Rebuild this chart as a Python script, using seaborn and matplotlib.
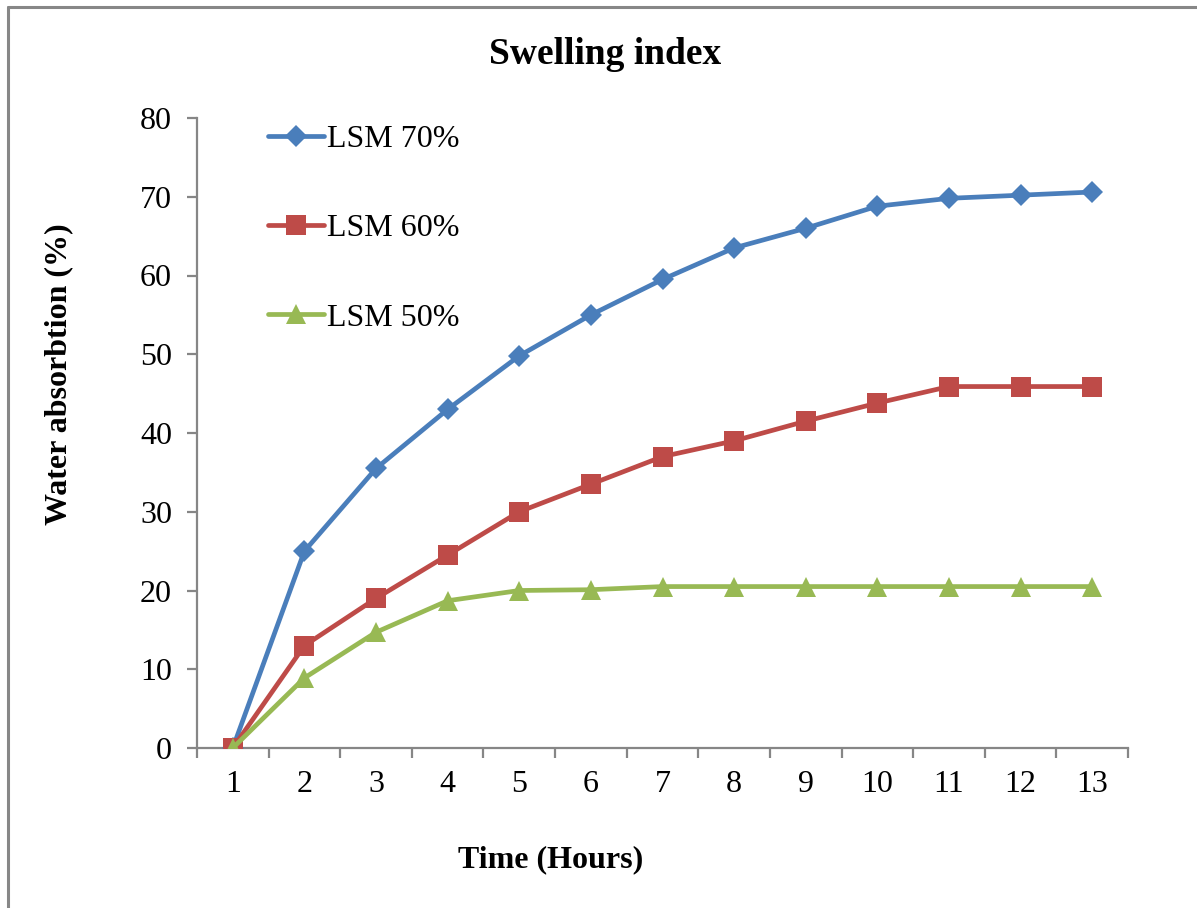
import matplotlib
matplotlib.use("Agg")
import matplotlib.pyplot as plt
import seaborn as sns
import pandas as pd
from matplotlib.lines import Line2D

hours = [1, 2, 3, 4, 5, 6, 7, 8, 9, 10, 11, 12, 13]
lsm70 = [0, 25, 35.5, 43, 49.8, 55, 59.5, 63.5, 66, 68.8, 69.8, 70.2, 70.6]
lsm60 = [0, 13, 19, 24.5, 30, 33.5, 37, 39, 41.5, 43.8, 45.9, 45.9, 45.9]
lsm50 = [0, 8.9, 14.7, 18.7, 20, 20.1, 20.5, 20.5, 20.5, 20.5, 20.5, 20.5, 20.5]
series_names = ["LSM 70%", "LSM 60%", "LSM 50%"]
y_ticks = [0, 10, 20, 30, 40, 50, 60, 70, 80]

sns.set_theme(style="white")
plt.rcParams["font.family"] = ["Liberation Serif", "DejaVu Serif"]
plt.rcParams["text.color"] = "black"
plt.rcParams["axes.labelcolor"] = "black"
plt.rcParams["xtick.color"] = "black"
plt.rcParams["ytick.color"] = "black"

W, H = 1197, 908
fig = plt.figure(figsize=(W / 100, H / 100), dpi=100)
ax = fig.add_axes([197 / W, 1 - 748 / H, (1128 - 197) / W, (748 - 118) / H])

colors = ["#4A7EBB", "#BE4B48", "#98B954"]
markers = ["D", "s", "^"]
msizes = [11, 14, 15]
lw = 3.4

df = pd.DataFrame({"Hour": hours * 3,
                   "Value": lsm70 + lsm60 + lsm50,
                   "Series": [series_names[0]] * 13 + [series_names[1]] * 13 + [series_names[2]] * 13})

for name, c, m, ms in zip(series_names, colors, markers, msizes):
    sub = df[df["Series"] == name]
    sns.lineplot(data=sub, x="Hour", y="Value", ax=ax, color=c, marker=m,
                 markersize=ms, markeredgecolor=c, markeredgewidth=0, linewidth=lw,
                 label=name, legend=False, zorder=3)

ax.set_xlim(0.5, 13.5)
ax.set_ylim(0, 80)
ax.set_yticks(y_ticks)
ax.set_xticks(hours)
ax.set_xticks([h - 0.5 for h in hours] + [13.5], minor=True)
ax.set_xticklabels([str(h) for h in hours])

spine_c = "#868686"
for s in ["top", "right"]:
    ax.spines[s].set_visible(False)
for s in ["left", "bottom"]:
    ax.spines[s].set_color(spine_c)
    ax.spines[s].set_linewidth(1.6)
ax.tick_params(axis="y", which="major", length=7, width=1.6, color=spine_c,
               direction="out", left=True, pad=11, labelsize=23, labelcolor="black")
ax.tick_params(axis="x", which="major", length=0, pad=16, labelsize=23, labelcolor="black")
ax.tick_params(axis="x", which="minor", length=7, width=1.6, color=spine_c,
               direction="out", bottom=True)
ax.grid(False)

ax.set_xlabel("Time (Hours)", fontsize=23, fontweight="bold", color="black")
ax.xaxis.set_label_coords((551 - 197) / 931, (748 - 845) / 630)
ax.set_ylabel("Water absorbtion (%)", fontsize=23, fontweight="bold", color="black")
ax.yaxis.set_label_coords((73 - 197) / 931, (748 - 374) / 630)
ax.set_title("Swelling index", fontsize=27, fontweight="bold", color="black",
             x=(605 - 197) / 931, y=(748 - 64) / 630, pad=0)

handles = [Line2D([], [], color=c, marker=m, markersize=ms, markeredgewidth=0, linewidth=lw)
           for c, m, ms in zip(colors, markers, msizes)]
leg = ax.legend(handles, series_names, loc="upper left",
                bbox_to_anchor=(268 / W, 1 - 125 / H), bbox_transform=fig.transFigure,
                frameon=False, fontsize=23, handlelength=1.75, handletextpad=0.1,
                labelspacing=1.87, borderpad=0, borderaxespad=0, labelcolor="black")

# chart-area border (top and left visible)
fig.add_artist(Line2D([8 / W, 8 / W], [0, 1 - 7 / H], color="#878787", linewidth=2.2,
                      transform=fig.transFigure))
fig.add_artist(Line2D([8 / W, 1], [1 - 7 / H, 1 - 7 / H], color="#878787", linewidth=2.2,
                      transform=fig.transFigure))

fig.savefig("out.png", dpi=100, facecolor="white")
